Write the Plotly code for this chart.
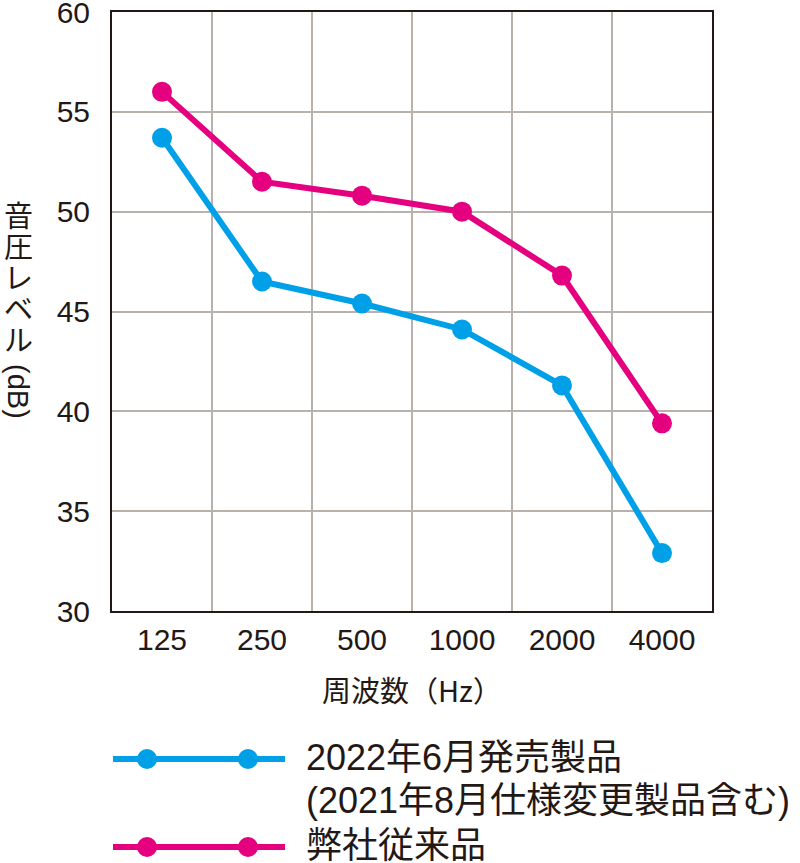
import plotly.graph_objects as go

freqs = ["125", "250", "500", "1000", "2000", "4000"]
new_product = [53.7, 46.5, 45.4, 44.1, 41.3, 32.9]
old_product = [56.0, 51.5, 50.8, 50.0, 46.8, 39.4]
y_ticks = [30, 35, 40, 45, 50, 55, 60]

name_new_1 = "2022年6月発売製品"
name_new_2 = "(2021年8月仕様変更製品含む)"
name_old = "弊社従来品"

BLUE = "#00a0e9"
MAGENTA = "#e4007f"
TEXT = "#231815"
GRID = "#b8b1ac"

W, H = 800, 863
L, R, T, B = 112, 88, 12, 252
PW, PH = W - L - R, H - T - B

def px(x):
    return (x - L) / PW

def py(y):
    return (H - B - y) / PH

fig = go.Figure()
fig.add_trace(go.Scatter(x=freqs, y=new_product, mode="lines+markers",
                         line=dict(color=BLUE, width=6),
                         marker=dict(color=BLUE, size=20), showlegend=False))
fig.add_trace(go.Scatter(x=freqs, y=old_product, mode="lines+markers",
                         line=dict(color=MAGENTA, width=6),
                         marker=dict(color=MAGENTA, size=20), showlegend=False))

tick_font = dict(family="Liberation Sans, Arial, sans-serif", size=30, color=TEXT)
jp = "Noto Sans CJK JP, sans-serif"
mixed = "Liberation Sans, Noto Sans CJK JP, sans-serif"

fig.update_layout(
    width=W, height=H,
    margin=dict(l=L, r=R, t=T, b=B),
    paper_bgcolor="white", plot_bgcolor="white",
    xaxis=dict(type="category", tickson="boundaries", showgrid=True,
               gridcolor=GRID, gridwidth=1.5, showline=True, linecolor=TEXT,
               linewidth=2, mirror=True, ticks="", tickfont=tick_font,
               ticklabelstandoff=1, zeroline=False, range=[-0.5, 5.5],
               automargin=False),
    yaxis=dict(range=[30, 60], tickvals=y_ticks, showgrid=True,
               gridcolor=GRID, gridwidth=1.5, showline=True, linecolor=TEXT,
               linewidth=2, mirror=True, ticks="", tickfont=tick_font,
               ticklabelstandoff=14, ticklabeloverflow="allow", zeroline=False,
               automargin=False),
)

annotations = []
# x-axis title
annotations.append(dict(text="周波数（Hz）", x=px(412), y=py(689), xref="paper", yref="paper",
                        showarrow=False, font=dict(family=jp, size=29, color=TEXT),
                        xanchor="center", yanchor="middle"))
# y-axis title (vertical)
ychars = ["音", "圧", "レ", "ベ", "ル"]
for i, ch in enumerate(ychars):
    annotations.append(dict(text=ch, x=px(18), y=py(214 + 31 * i), xref="paper", yref="paper",
                            showarrow=False, font=dict(family=jp, size=29, color=TEXT),
                            xanchor="center", yanchor="middle"))
annotations.append(dict(text="(dB)", x=px(18), y=py(391), xref="paper", yref="paper",
                        showarrow=False, textangle=90,
                        font=dict(family=mixed, size=29, color=TEXT),
                        xanchor="center", yanchor="middle"))
# legend text
leg_font = dict(family=mixed, size=36, color=TEXT)
for txt, yy in [(name_new_1, 757), (name_new_2, 800), (name_old, 845)]:
    annotations.append(dict(text=txt, x=px(304), y=py(yy), xref="paper", yref="paper",
                            showarrow=False, font=leg_font, xanchor="left", yanchor="middle"))
fig.update_layout(annotations=annotations)

shapes = []
for color, yy in [(BLUE, 759), (MAGENTA, 847)]:
    shapes.append(dict(type="line", xref="paper", yref="paper",
                       x0=px(113), x1=px(285), y0=py(yy), y1=py(yy),
                       line=dict(color=color, width=6)))
    for cx in (147, 248):
        shapes.append(dict(type="circle", xref="paper", yref="paper",
                           xsizemode="pixel", ysizemode="pixel",
                           xanchor=px(cx), yanchor=py(yy),
                           x0=-10, x1=10, y0=-10, y1=10,
                           fillcolor=color, line=dict(color=color, width=0)))
fig.update_layout(shapes=shapes)

fig.write_html("out.html")
